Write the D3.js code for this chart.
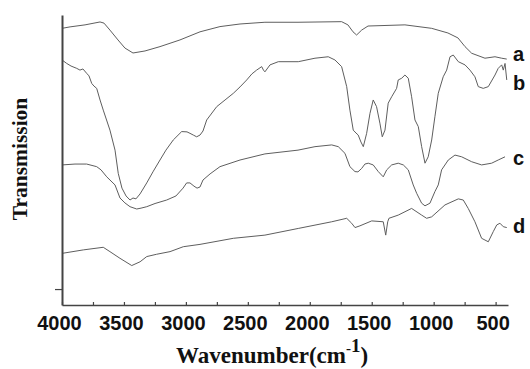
<!DOCTYPE html>
<html>
<head>
<meta charset="utf-8">
<script src="https://cdn.jsdelivr.net/npm/d3@7"></script>
<style>
  html, body { margin: 0; padding: 0; background: #fff; }
  svg { display: block; }
</style>
</head>
<body>
<svg id="chart" width="530" height="369"></svg>
<script>
// FT-IR spectra, offset vertically: [wavenumber (cm-1), transmission (a.u.)]
const spectrumA = [
  [4000,95.4],[3935,95.9],[3814,96.6],[3693,97.6],[3661,97.2],[3613,94.8],[3548,91.4],
  [3492,88.6],[3427,86.9],[3330,87.6],[3209,89.1],[3048,91.4],[2886,94.2],[2725,96.0],
  [2563,96.9],[2362,97.5],[2095,97.5],[1743,97.7],[1692,96.6],[1651,94.2],[1622,93.1],
  [1581,94.8],[1530,96.2],[1232,96.6],[1016,95.4],[885,93.8],[804,92.1],[747,89.1],
  [693,86.8],[586,85.1],[505,85.6],[451,85.1],[410,84.8]
];
const spectrumB = [
  [4000,84.5],[3962,83.3],[3927,82.4],[3881,81.6],[3855,81.0],[3831,81.4],[3801,79.9],
  [3782,79.0],[3760,76.4],[3742,75.5],[3720,74.7],[3693,70.7],[3667,67.2],[3613,60.3],
  [3572,53.4],[3546,45.4],[3516,40.3],[3483,37.6],[3451,36.2],[3427,36.9],[3403,36.6],
  [3370,38.3],[3316,42.1],[3266,45.9],[3209,50.0],[3161,53.4],[3102,56.9],[3034,59.8],
  [2991,59.7],[2967,59.2],[2940,58.6],[2913,58.0],[2886,58.6],[2862,60.0],[2832,63.8],
  [2751,68.4],[2684,70.7],[2617,73.0],[2563,75.2],[2509,77.6],[2467,79.7],[2429,81.0],
  [2388,82.2],[2374,81.0],[2362,80.4],[2321,82.8],[2254,83.9],[2093,83.9],[1958,85.1],
  [1851,85.6],[1797,84.5],[1743,82.2],[1702,75.3],[1676,67.2],[1649,60.3],[1627,59.3],
  [1609,58.6],[1587,56.2],[1568,54.6],[1541,59.2],[1514,66.1],[1488,70.7],[1461,68.4],
  [1434,62.7],[1415,58.0],[1393,60.3],[1367,69.6],[1339,71.8],[1299,74.7],[1286,77.6],
  [1258,78.2],[1232,79.3],[1205,78.2],[1178,71.8],[1151,63.8],[1124,61.5],[1097,54.6],
  [1070,48.9],[1044,51.1],[1016,56.9],[990,64.9],[963,73.0],[923,78.7],[895,81.0],
  [868,85.6],[842,86.2],[801,83.9],[747,82.8],[707,81.0],[667,78.7],[640,75.3],
  [600,74.7],[559,75.3],[505,79.3],[479,81.6],[451,82.8],[438,81.0],[424,83.3],[410,77.6]
];
const spectrumC = [
  [4000,48.3],[3895,48.6],[3801,48.6],[3720,47.7],[3685,46.6],[3639,44.2],[3572,41.4],
  [3532,36.9],[3492,35.2],[3451,33.9],[3397,33.1],[3362,33.4],[3316,33.9],[3249,35.0],
  [3155,36.2],[3080,37.6],[3023,40.3],[2994,42.1],[2967,42.1],[2935,41.0],[2910,40.3],
  [2886,40.7],[2862,43.1],[2805,45.2],[2725,47.7],[2563,50.0],[2362,52.1],[2095,53.4],
  [1958,54.6],[1823,55.2],[1770,54.6],[1716,52.3],[1676,47.7],[1635,46.0],[1611,45.9],
  [1581,47.1],[1555,48.6],[1528,48.9],[1488,48.3],[1447,46.0],[1407,44.2],[1379,46.6],
  [1339,48.3],[1286,48.9],[1245,48.3],[1205,46.6],[1165,41.4],[1137,38.5],[1097,35.1],
  [1070,34.2],[1030,35.1],[990,39.1],[963,41.4],[936,46.6],[882,50.0],[828,51.7],
  [774,51.1],[693,49.4],[613,48.3],[532,48.9],[479,50.0],[424,51.1]
];
const spectrumD = [
  [4000,17.8],[3828,19.0],[3667,19.9],[3613,18.4],[3532,16.1],[3437,13.6],[3370,14.9],
  [3316,16.7],[3236,17.5],[3128,18.4],[3021,20.1],[2886,20.9],[2617,23.0],[2362,24.1],
  [2093,26.4],[1823,28.7],[1702,29.9],[1662,28.2],[1635,26.7],[1595,27.3],[1500,29.0],
  [1407,28.7],[1387,24.1],[1371,28.7],[1361,29.9],[1286,31.0],[1178,33.3],[1097,31.0],
  [1057,29.9],[1016,30.4],[909,34.5],[801,36.6],[761,36.2],[721,33.3],[667,28.7],
  [613,23.0],[559,21.8],[519,25.3],[491,27.6],[465,28.2],[438,27.0],[410,26.7]
];
const seriesNames = ["a", "b", "c", "d"];
const seriesData = [spectrumA, spectrumB, spectrumC, spectrumD];
const xTickValues = [4000, 3750, 3500, 3250, 3000, 2750, 2500, 2250, 2000, 1750, 1500, 1250, 1000, 750, 500];
const xTickLabels = [4000, 3500, 3000, 2500, 2000, 1500, 1000, 500];
const yTickValues = [5.5];

const svg = d3.select("#chart");
const plotLeft = 62, plotRight = 508, plotTop = 15, plotBottom = 305;

const x = d3.scaleLinear().domain([4000, 400]).range([plotLeft, plotRight]);
const y = d3.scaleLinear().domain([0, 100]).range([plotBottom, plotTop]);

// spectra
const line = d3.line().x(d => x(d[0])).y(d => y(d[1]));
svg.append("g")
  .selectAll("path")
  .data(seriesData)
  .join("path")
  .attr("d", line)
  .attr("fill", "none")
  .attr("stroke", "#5e5e5e")
  .attr("stroke-width", 1)
  .attr("stroke-linejoin", "round");

// curve labels beside the right end of each spectrum
const labelShift = [2, 10, 8, 5];
svg.append("g")
  .selectAll("text")
  .data(seriesData)
  .join("text")
  .attr("x", 513)
  .attr("y", (d, i) => y(d[d.length - 1][1]) + labelShift[i])
  .attr("font-family", "Liberation Sans, Arial, sans-serif")
  .attr("font-weight", "bold")
  .attr("font-size", 20)
  .attr("fill", "#111")
  .text((d, i) => seriesNames[i]);

// x axis: ticks point inward, labels every 500 cm-1
const xAxis = d3.axisBottom(x)
  .tickValues(xTickValues)
  .tickSizeInner(-3)
  .tickSizeOuter(0)
  .tickFormat(d => xTickLabels.includes(d) ? d : "");
const gx = svg.append("g").attr("transform", `translate(0,${plotBottom})`).call(xAxis);
gx.select(".domain").attr("stroke", "#444").attr("stroke-width", 1.6);
gx.selectAll(".tick line").attr("stroke", "#444").attr("stroke-width", 1.2);
gx.selectAll(".tick text")
  .attr("y", 25)
  .attr("dy", 0)
  .attr("dx", -3)
  .attr("fill", "#111")
  .attr("font-family", "Liberation Sans, Arial, sans-serif")
  .attr("font-weight", "bold")
  .attr("font-size", 20);

// y axis: single outward tick, no labels
const yAxis = d3.axisLeft(y)
  .tickValues(yTickValues)
  .tickSizeInner(7)
  .tickSizeOuter(0)
  .tickFormat("");
const gy = svg.append("g").attr("transform", `translate(${plotLeft},0)`).call(yAxis);
gy.select(".domain").attr("stroke", "#444").attr("stroke-width", 2);
gy.selectAll(".tick line").attr("stroke", "#444").attr("stroke-width", 1.2);

// axis titles
const xt = svg.append("text")
  .attr("x", 176)
  .attr("y", 363)
  .attr("font-family", "Liberation Serif, Times New Roman, serif")
  .attr("font-weight", "bold")
  .attr("font-size", 23)
  .attr("fill", "#111");
xt.append("tspan").text("Wavenumber(cm");
xt.append("tspan").attr("font-size", 15).attr("dy", -10).text("-");
xt.append("tspan").attr("font-size", 19).attr("dy", -1).text("1");
xt.append("tspan").attr("dy", 11).text(")");

svg.append("text")
  .attr("transform", "translate(27,159) rotate(-90)")
  .attr("text-anchor", "middle")
  .attr("font-family", "Liberation Serif, Times New Roman, serif")
  .attr("font-weight", "bold")
  .attr("font-size", 21.5)
  .attr("fill", "#111")
  .text("Transmission");
</script>
</body>
</html>
